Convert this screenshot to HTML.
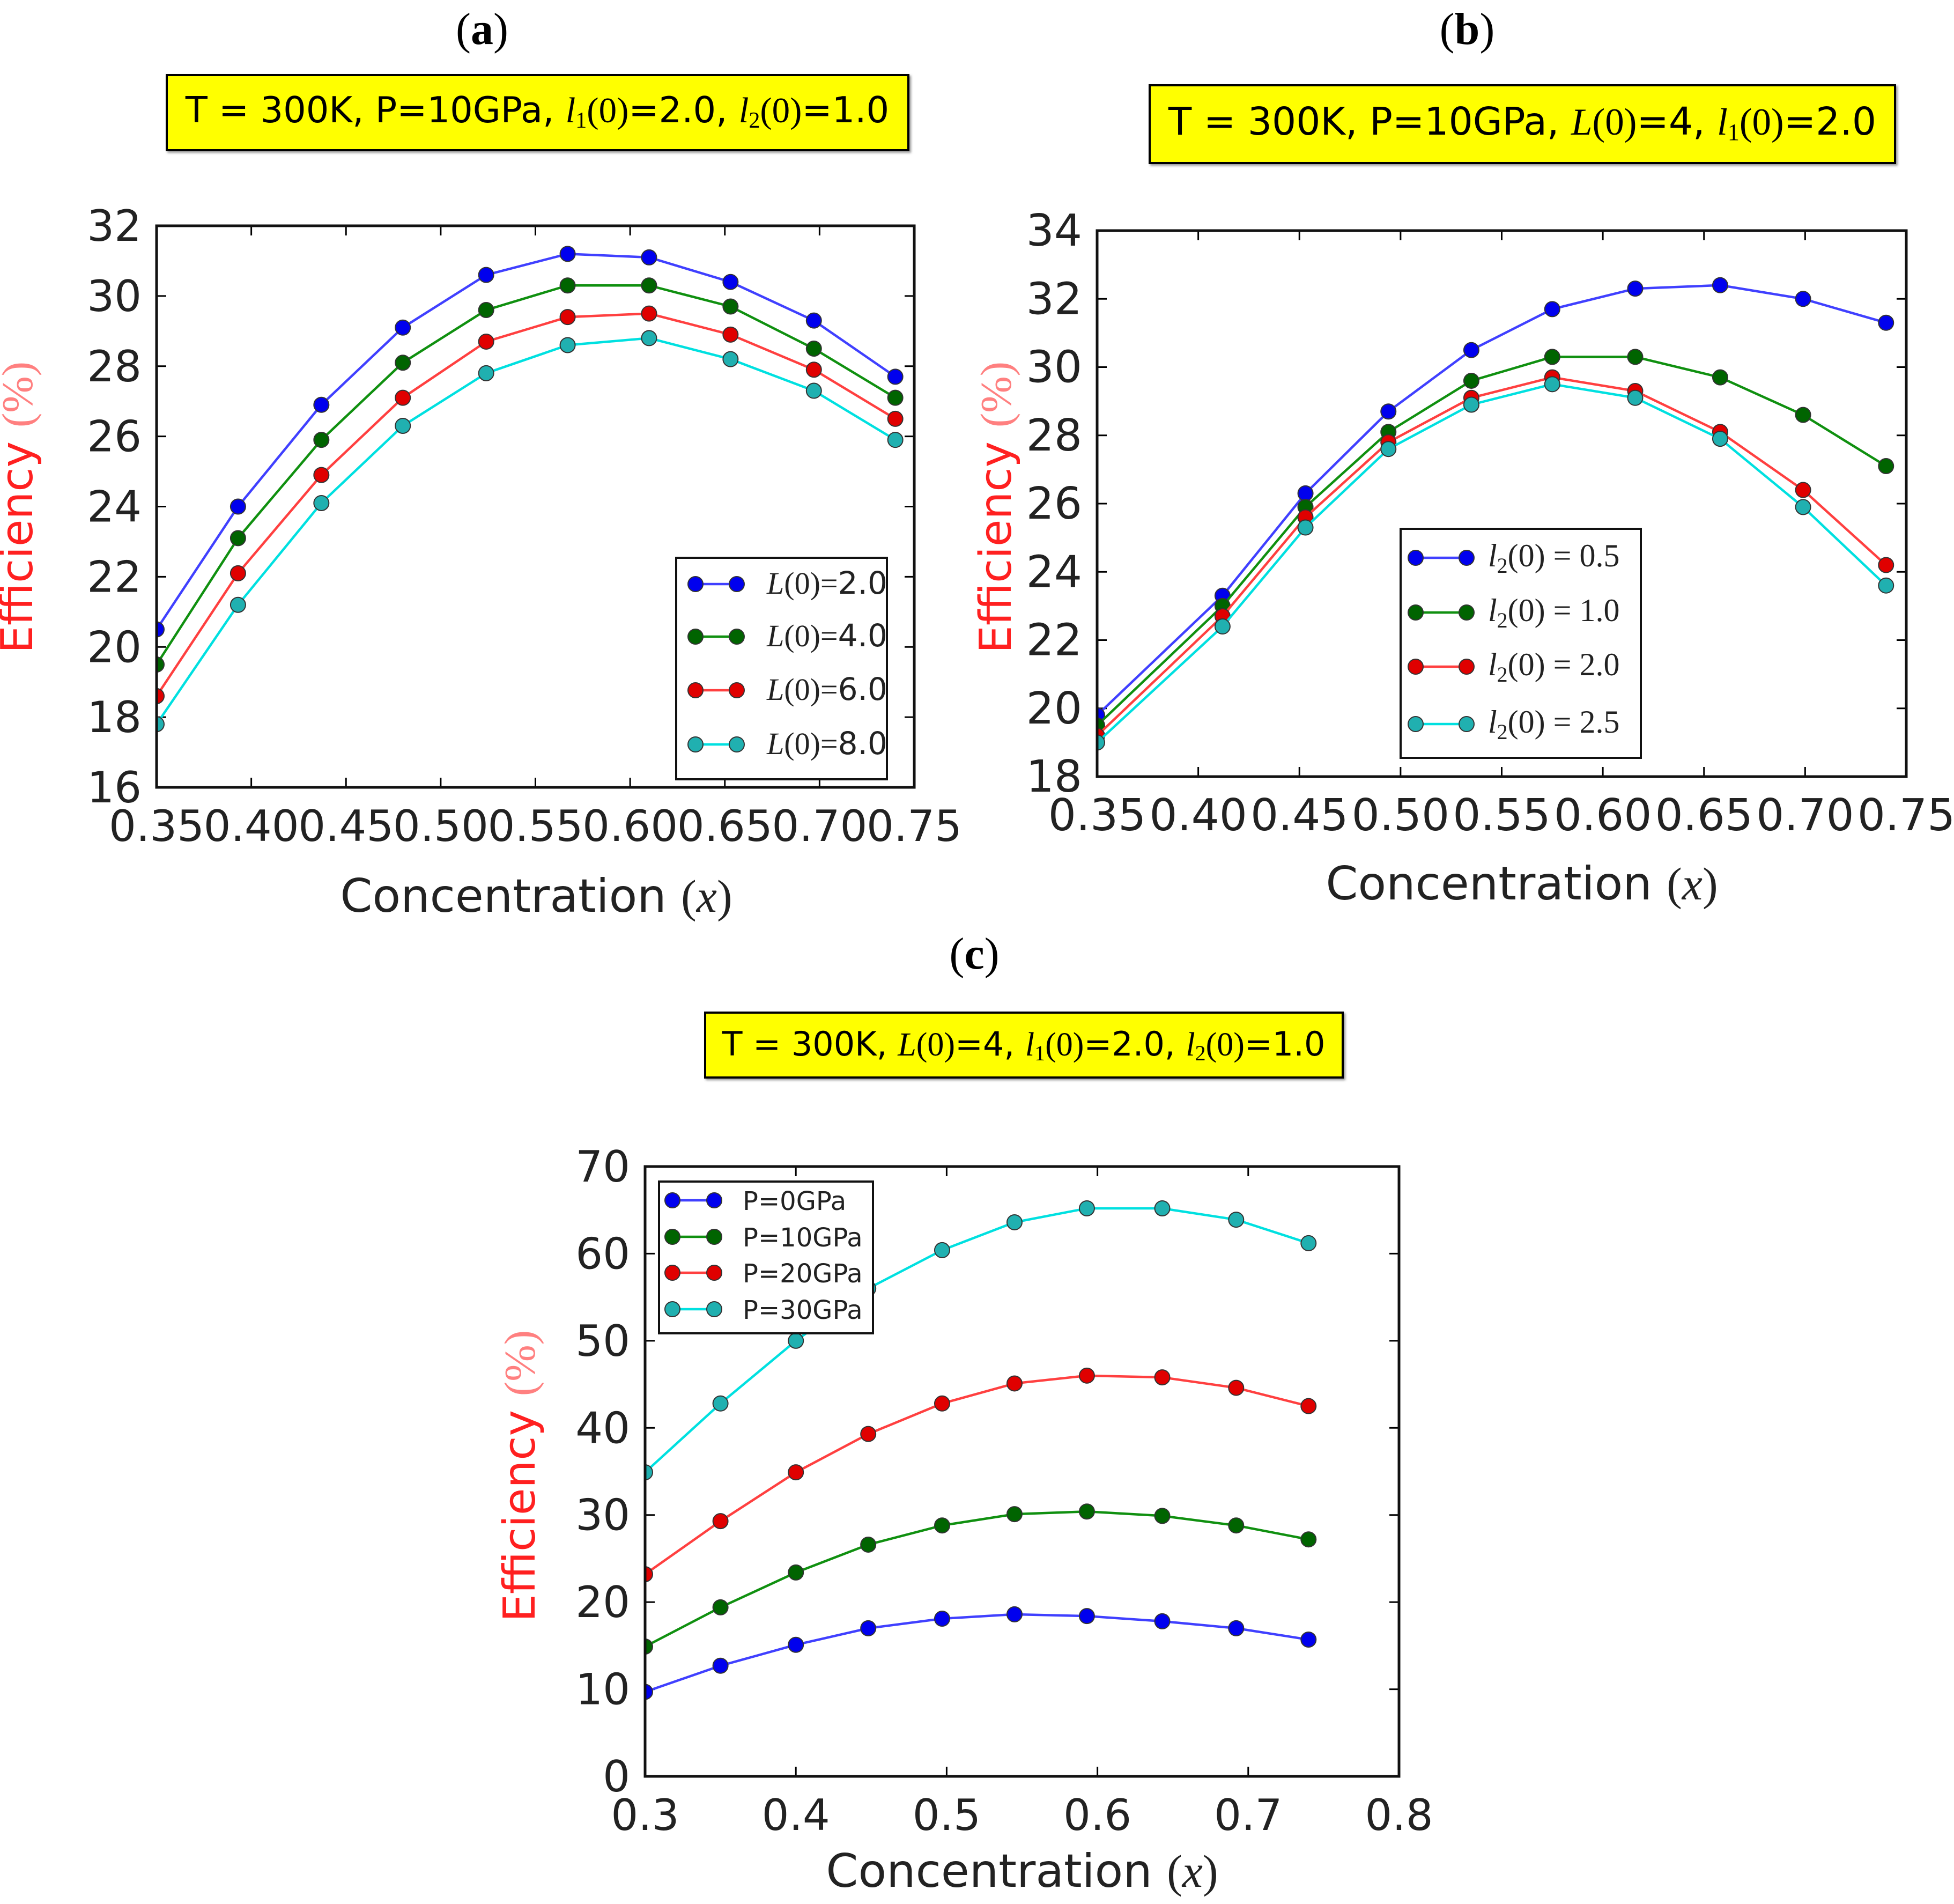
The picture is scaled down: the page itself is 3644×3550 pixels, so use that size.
<!DOCTYPE html>
<html><head><meta charset="utf-8"><style>
html,body{margin:0;padding:0;background:#fff;}
svg{display:block;}
text{font-family:"DejaVu Sans","Liberation Sans",sans-serif;}
.serif{font-family:"Liberation Serif",serif;}
</style></head><body>
<svg id="fig" xmlns="http://www.w3.org/2000/svg" width="3644" height="3550" viewBox="0 0 3644 3550">
<defs>
<filter id="sh" x="-5%" y="-5%" width="110%" height="120%"><feDropShadow dx="3" dy="3" stdDeviation="2" flood-color="#555" flood-opacity="0.6"/></filter>
</defs>
<text x="899" y="82" text-anchor="middle" font-size="84" class="serif">(<tspan font-weight="bold">a</tspan>)</text>
<text x="2736" y="82" text-anchor="middle" font-size="84" class="serif">(<tspan font-weight="bold">b</tspan>)</text>
<text x="1817" y="1806" text-anchor="middle" font-size="84" class="serif">(<tspan font-weight="bold">c</tspan>)</text>
<g>
<rect x="311" y="140" width="1383" height="140" fill="#ffff00" stroke="#000" stroke-width="4" filter="url(#sh)"/>
<text x="1002" y="228" text-anchor="middle" font-size="67">T = 300K, P=10GPa, <tspan class="serif" font-style="italic">l</tspan><tspan class="serif" font-size="42" dy="10">1</tspan><tspan class="serif" dy="-10">(0)</tspan>=2.0, <tspan class="serif" font-style="italic">l</tspan><tspan class="serif" font-size="42" dy="10">2</tspan><tspan class="serif" dy="-10">(0)</tspan>=1.0</text>
</g>
<g>
<rect x="2144" y="159" width="1390" height="145" fill="#ffff00" stroke="#000" stroke-width="4" filter="url(#sh)"/>
<text x="2839" y="251" text-anchor="middle" font-size="71">T = 300K, P=10GPa, <tspan class="serif" font-style="italic">L</tspan><tspan class="serif">(0)</tspan>=4, <tspan class="serif" font-style="italic">l</tspan><tspan class="serif" font-size="44" dy="10">1</tspan><tspan class="serif" dy="-10">(0)</tspan>=2.0</text>
</g>
<g>
<rect x="1315" y="1888" width="1189" height="121" fill="#ffff00" stroke="#000" stroke-width="4" filter="url(#sh)"/>
<text x="1909" y="1968" text-anchor="middle" font-size="62">T = 300K, <tspan class="serif" font-style="italic">L</tspan><tspan class="serif">(0)</tspan>=4, <tspan class="serif" font-style="italic">l</tspan><tspan class="serif" font-size="40" dy="9">1</tspan><tspan class="serif" dy="-9">(0)</tspan>=2.0, <tspan class="serif" font-style="italic">l</tspan><tspan class="serif" font-size="40" dy="9">2</tspan><tspan class="serif" dy="-9">(0)</tspan>=1.0</text>
</g>
<g id="charts"></g>
</svg>
<script>
// ---------- data ----------
const xA = [0.35, 0.393, 0.437, 0.48, 0.524, 0.567, 0.61, 0.653, 0.697, 0.74];
const aBlue  = [20.5, 24.0, 26.9, 29.1, 30.6, 31.2, 31.1, 30.4, 29.3, 27.7];
const aGreen = [19.5, 23.1, 25.9, 28.1, 29.6, 30.3, 30.3, 29.7, 28.5, 27.1];
const aRed   = [18.6, 22.1, 24.9, 27.1, 28.7, 29.4, 29.5, 28.9, 27.9, 26.5];
const aCyan  = [17.8, 21.2, 24.1, 26.3, 27.8, 28.6, 28.8, 28.2, 27.3, 25.9];
const aXTicks = ["0.35","0.40","0.45","0.50","0.55","0.60","0.65","0.70","0.75"];
const aYTicks = ["16","18","20","22","24","26","28","30","32"];
const aLegend = ["L(0)=2.0","L(0)=4.0","L(0)=6.0","L(0)=8.0"];

const xB = [0.35, 0.412, 0.453, 0.494, 0.535, 0.575, 0.616, 0.658, 0.699, 0.74];
const bBlue  = [19.8, 23.3, 26.3, 28.7, 30.5, 31.7, 32.3, 32.4, 32.0, 31.3];
const bGreen = [19.5, 23.0, 25.9, 28.1, 29.6, 30.3, 30.3, 29.7, 28.6, 27.1];
const bRed   = [19.2, 22.7, 25.6, 27.8, 29.1, 29.7, 29.3, 28.1, 26.4, 24.2];
const bCyan  = [19.0, 22.4, 25.3, 27.6, 28.9, 29.5, 29.1, 27.9, 25.9, 23.6];
const bXTicks = ["0.35","0.40","0.45","0.50","0.55","0.60","0.65","0.70","0.75"];
const bYTicks = ["18","20","22","24","26","28","30","32","34"];
const bLegend = ["0.5","1.0","2.0","2.5"];

const xC = [0.3, 0.35, 0.4, 0.448, 0.497, 0.545, 0.593, 0.643, 0.692, 0.74];
const cBlue  = [9.7, 12.7, 15.1, 17.0, 18.1, 18.6, 18.4, 17.8, 17.0, 15.7];
const cGreen = [14.9, 19.4, 23.4, 26.6, 28.8, 30.1, 30.4, 29.9, 28.8, 27.2];
const cRed   = [23.2, 29.3, 34.9, 39.3, 42.8, 45.1, 46.0, 45.8, 44.6, 42.5];
const cCyan  = [34.9, 42.8, 50.0, 56.0, 60.4, 63.6, 65.2, 65.2, 63.9, 61.2];
const cXTicks = ["0.3","0.4","0.5","0.6","0.7","0.8"];
const cYTicks = ["0","10","20","30","40","50","60","70"];
const cLegend = ["P=0GPa","P=10GPa","P=20GPa","P=30GPa"];

const LINECOL = ["#4040ff","#109010","#ff4040","#00e0e0"];
const MARK = ["#0000ee","#006400","#e00000","#20b0b0"];

const NS = "http://www.w3.org/2000/svg";
function mk(tag, attrs, parent){ const e=document.createElementNS(NS,tag); for(const k in attrs) e.setAttribute(k,attrs[k]); if(parent) parent.appendChild(e); return e; }

function chart(id, box, xr, yr, xs, series, xt, yt, tickFont){
  const g = mk('g',{},document.getElementById('charts'));
  
  
  const X = v => box.l + (v-xr[0])/(xr[1]-xr[0])*(box.r-box.l);
  const Y = v => box.b - (v-yr[0])/(yr[1]-yr[0])*(box.b-box.t);
  mk('clipPath',{id:'clip'+id},g).appendChild(mk('rect',{x:box.l,y:box.t,width:box.r-box.l,height:box.b-box.t}));
  const tg = mk('g',{stroke:'#000','stroke-width':3},g);
  xt.forEach(s=>{ const v=parseFloat(s), px=X(v);
    mk('line',{x1:px,x2:px,y1:box.b,y2:box.b-18},tg); mk('line',{x1:px,x2:px,y1:box.t,y2:box.t+18},tg);
    const t=mk('text',{x:px,y:box.b+100,'text-anchor':'middle','font-size':tickFont,fill:'#222'},g); t.textContent=s;
    
    
  });
  yt.forEach(s=>{ const v=parseFloat(s), py=Y(v);
    mk('line',{x1:box.l,x2:box.l+18,y1:py,y2:py},tg); mk('line',{x1:box.r,x2:box.r-18,y1:py,y2:py},tg);
    const t=mk('text',{x:box.l-28,y:py+28,'text-anchor':'end','font-size':tickFont,fill:'#222'},g); t.textContent=s;
    
    
  });
  const sg = mk('g',{'clip-path':'url(#clip'+id+')'},g);
  series.forEach((ys,i)=>{
    const s = mk('g',{},sg);
    
    
    mk('polyline',{points:ys.map((y,j)=>X(xs[j])+','+Y(y)).join(' '),fill:'none',stroke:LINECOL[i],'stroke-width':4.5},s);
    ys.forEach((y,j)=>{ const c=mk('circle',{cx:X(xs[j]),cy:Y(y),r:14,fill:MARK[i],stroke:'#333','stroke-width':2},s);
      
      
    });
  });
  const fr = mk('rect',{x:box.l,y:box.t,width:box.r-box.l,height:box.b-box.t,fill:'none',stroke:'#111','stroke-width':5},g);
  
  
  return g;
}
function legend(g, box, rows, lx1, lx2, tx, labels, kind, fs){
  const lg = mk('g',{},g);
  
  
  mk('rect',{x:box[0],y:box[1],width:box[2]-box[0],height:box[3]-box[1],fill:'#fff',stroke:'#111','stroke-width':4},lg);
  labels.forEach((lab,i)=>{
    const e = mk('g',{},lg);
    
    
    const y=rows[i];
    mk('line',{x1:lx1,x2:lx2,y1:y,y2:y,stroke:LINECOL[i],'stroke-width':4.5},e);
    mk('circle',{cx:lx1,cy:y,r:14,fill:MARK[i],stroke:'#333','stroke-width':2},e);
    mk('circle',{cx:lx2,cy:y,r:14,fill:MARK[i],stroke:'#333','stroke-width':2},e);
    const t = mk('text',{x:tx,y:y+18,'font-size':fs,fill:'#222'},e);
    if(kind==='a'){ t.setAttribute('class','serif');
      t.innerHTML='<tspan font-style="italic">L</tspan>(0)=<tspan font-family="DejaVu Sans">'+lab.split('=')[1]+'</tspan>'; }
    else if(kind==='b'){ t.setAttribute('class','serif');
      t.innerHTML='<tspan font-style="italic">l</tspan><tspan font-size="40" dy="12">2</tspan><tspan dy="-12">(0) = '+lab+'</tspan>'; t.setAttribute('y', y+16); }
    else { t.textContent=lab; }
  });
}
function labels(g, cx, cy, ex, ey){
  const t = mk('text',{x:cx,y:cy,'text-anchor':'middle','font-size':86,fill:'#222'},g);
  t.innerHTML='Concentration <tspan class="serif">(<tspan font-style="italic">x</tspan>)</tspan>';
  
  
  const e = mk('text',{x:0,y:0,'text-anchor':'middle','font-size':82,fill:'#ff2020',transform:'translate('+ex+','+ey+') rotate(-90)'},g);
  e.innerHTML='Efficiency <tspan class="serif" fill="#ff8080">(%)</tspan>';
  
  
}

const gA = chart('a',{l:292,r:1705,t:421,b:1468},[0.35,0.75],[16,32],xA,[aBlue,aGreen,aRed,aCyan],aXTicks,aYTicks,80);
legend(gA,[1261,1040,1654,1453],[1089,1187,1287,1388],1297,1374,1430,aLegend,'a',58);
labels(gA,1000,1700,60,946);

const gB = chart('b',{l:2046,r:3555,t:430,b:1448},[0.35,0.75],[18,34],xB,[bBlue,bGreen,bRed,bCyan],bXTicks,bYTicks,82);
legend(gB,[2612,986,3060,1413],[1040,1142,1243,1350],2640,2735,2775,bLegend,'b',60);
labels(gB,2838,1677,1885,946);

const gC = chart('c',{l:1203,r:2609,t:2175,b:3312},[0.3,0.8],[0,70],xC,[cBlue,cGreen,cRed,cCyan],cXTicks,cYTicks,80);
legend(gC,[1229,2203,1628,2486],[2238,2306,2373,2441],1254,1332,1385,cLegend,'c',48);
labels(gC,1906,3518,997,2752);
</script>
</body></html>
